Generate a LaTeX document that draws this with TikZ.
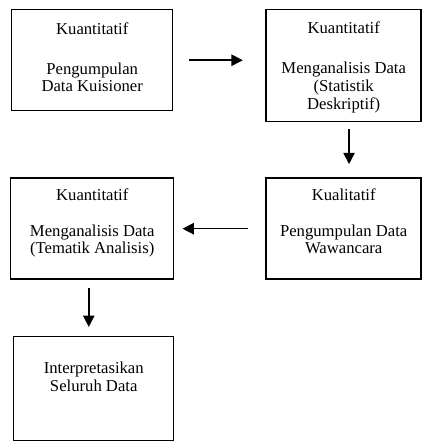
\documentclass[tikz,border=0pt]{standalone}
\usepackage{fontspec}
\setmainfont{Liberation Serif}
\usetikzlibrary{positioning}
\usetikzlibrary{arrows.meta}
\tikzset{
  kotak/.style={
    rectangle, draw=black, line width=1.1pt, fill=white,
    minimum height=75.75pt, align=center, inner sep=2pt,
    font=\fontsize{12.5}{13}\selectfont
  },
  panah/.style={-{Triangle[length=8.5pt,width=8.5pt]}, line width=1.1pt, draw=black}
}
\begin{document}
\begin{tikzpicture}
  \useasboundingbox (0,0) rectangle (317.25pt,-330.75pt);
  \node[kotak, minimum width=120.75pt, anchor=north west] (kuis) at (8.25pt,-6.75pt)
    {Kuantitatif\\[17pt]Pengumpulan\\Data Kuisioner\\[-8pt]{}};
  \node[kotak, minimum width=116.25pt, minimum height=84pt, right=69pt of kuis.north east, anchor=north west] (stat)
    {{}\\[-1.5pt]Kuantitatif\\[17.5pt]Menganalisis Data\\[0.5pt](Statistik\\[0.5pt]Deskriptif)};
  \node[kotak, minimum width=116.25pt, below=41.25pt of stat.south west, anchor=north west] (wawan)
    {Kualitatif\\[14pt]Pengumpulan Data\\Wawancara\\[-2pt]{}};
  \node[kotak, minimum width=122.25pt, left=68.25pt of wawan.north west, anchor=north east] (tema)
    {Kuantitatif\\[14pt]Menganalisis Data\\(Tematik Analisis)\\[-2pt]{}};
  \node[kotak, minimum width=120pt, minimum height=78pt, below=42pt of tema.south east, anchor=north east] (interp)
    {Interpretasikan\\Seluruh Data\\[5pt]{}};
  \draw[panah, shorten <=12pt, shorten >=17pt] (kuis.east) -- (kuis.east -| stat.west);
  \draw[panah, shorten <=5pt, shorten >=10pt] ([xshift=4pt]stat.south) -- ([xshift=4pt]stat.south |- wawan.north);
  \draw[panah, shorten <=12.75pt, shorten >=6pt] (wawan.west) -- (tema.east);
  \draw[panah, shorten <=6pt, shorten >=6.75pt] ([xshift=-2.6pt]tema.south) -- ([xshift=-2.6pt]tema.south |- interp.north);
\end{tikzpicture}
\end{document}
